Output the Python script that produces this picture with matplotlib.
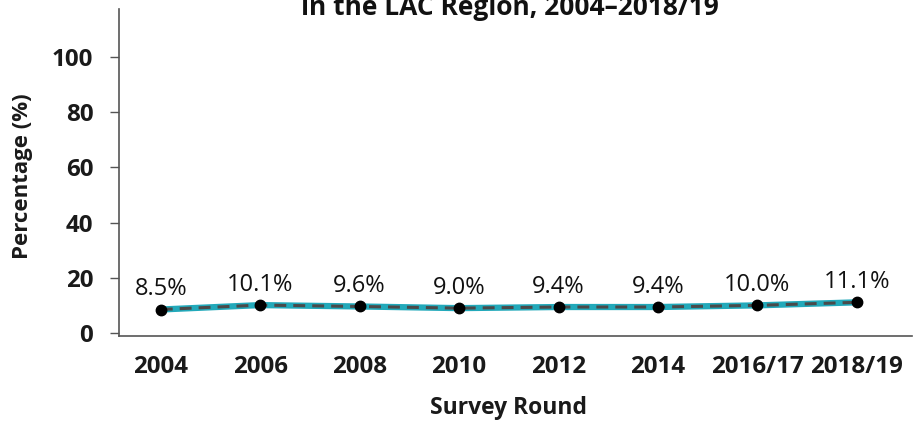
import numpy as np
import matplotlib
matplotlib.use('Agg')
import matplotlib.pyplot as plt

rounds = ['2004', '2006', '2008', '2010', '2012', '2014', '2016/17', '2018/19']
values = [8.5, 10.1, 9.6, 9.0, 9.4, 9.4, 10.0, 11.1]
labels = ['8.5%', '10.1%', '9.6%', '9.0%', '9.4%', '9.4%', '10.0%', '11.1%']
yticks = [0, 20, 40, 60, 80, 100]

plt.rcParams['font.family'] = ['Open Sans', 'DejaVu Sans']

fig = plt.figure(figsize=(9.23, 4.24), dpi=100)
ax = fig.add_axes([119 / 923, 88 / 424, (912 - 119) / 923, (336 - 9) / 424])

x = np.arange(len(rounds))
# teal line underneath, dark dashed line on top
ax.plot(x, values, color='#22a9ba', lw=4.5, solid_capstyle='round', zorder=2)
ax.plot(x, values, color='#4a4a4a', lw=2.2, dashes=(3.9, 2.3), zorder=3)
ax.plot(x, values, 'o', color='black', ms=7.5, zorder=4)

for xi, v, lab in zip(x, values, labels):
    ax.annotate(lab, (xi, v), xytext=(0, 6), textcoords='offset points',
                ha='center', va='bottom', fontsize=17, color='#111111')

ax.set_xlim(-0.42, 7.555)
ax.set_ylim(-1.1, 117.4)
ax.set_xticks(x)
ax.set_xticklabels(rounds)
ax.set_yticks(yticks)
ax.tick_params(axis='x', length=0, pad=14, labelsize=17.4)
ax.tick_params(axis='y', length=6.5, width=1, color='#555555', pad=12, labelsize=17.4)
for t in ax.get_xticklabels() + ax.get_yticklabels():
    t.set_fontweight('bold')
    t.set_color('#1a1a1a')

for s in ['top', 'right']:
    ax.spines[s].set_visible(False)
for s in ['left', 'bottom']:
    ax.spines[s].set_color('#555555')
    ax.spines[s].set_linewidth(1.2)

fig.text(23 / 923, 1 - 176 / 424, 'Percentage (%)', rotation=90, ha='center', va='center',
         fontsize=16, fontweight='bold', color='#1a1a1a')
fig.text(509 / 923, 1 - 408 / 424, 'Survey Round', ha='center', va='center',
         fontsize=16.5, fontweight='bold', color='#1a1a1a')
fig.text(510 / 923, 1 - 15 / 424, 'in the LAC Region, 2004\u20132018/19', ha='center', va='baseline',
         fontsize=19, fontweight='bold', color='#111111')

fig.savefig('out.png', dpi=100)
